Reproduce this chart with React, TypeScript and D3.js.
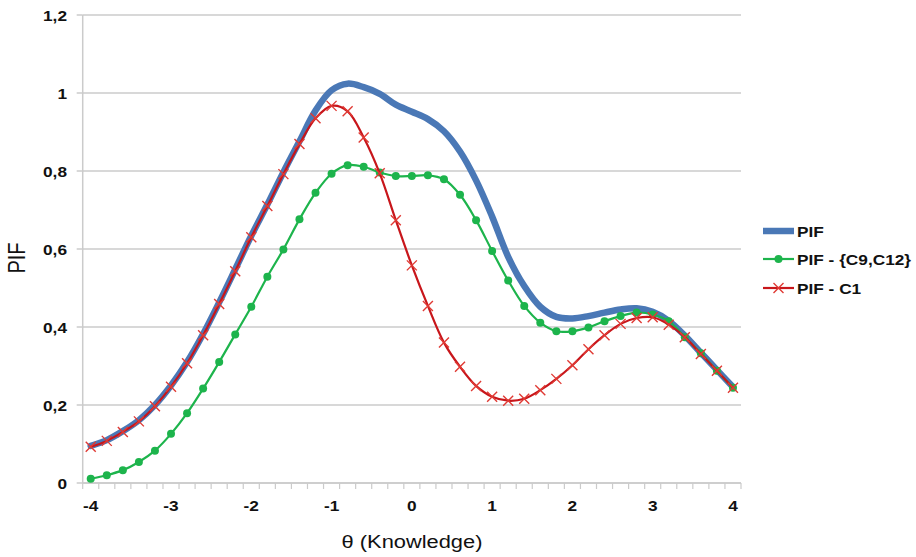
import React from "react";
import * as d3 from "d3";

const categories: number[] = [
  -4, -3.8, -3.6, -3.4, -3.2, -3, -2.8, -2.6, -2.4, -2.2, -2, -1.8, -1.6, -1.4,
  -1.2, -1, -0.8, -0.6, -0.4, -0.2, 0, 0.2, 0.4, 0.6, 0.8, 1, 1.2, 1.4, 1.6, 1.8,
  2, 2.2, 2.4, 2.6, 2.8, 3, 3.2, 3.4, 3.6, 3.8, 4,
];

const pif: number[] = [
  0.095, 0.11, 0.133, 0.161, 0.2, 0.25, 0.31, 0.382, 0.463, 0.548, 0.634, 0.714,
  0.797, 0.876, 0.955, 1.007, 1.024, 1.015, 0.998, 0.97, 0.952, 0.933, 0.902,
  0.85, 0.776, 0.683, 0.58, 0.505, 0.452, 0.426, 0.422, 0.428, 0.437, 0.445,
  0.448, 0.439, 0.416, 0.378, 0.334, 0.29, 0.246,
];

const pifC9C12: number[] = [
  0.011, 0.02, 0.033, 0.054, 0.083, 0.126, 0.179, 0.242, 0.31, 0.381, 0.452,
  0.529, 0.599, 0.676, 0.744, 0.793, 0.815, 0.811, 0.796, 0.787, 0.787, 0.789,
  0.779, 0.739, 0.674, 0.595, 0.519, 0.454, 0.411, 0.389, 0.389, 0.399, 0.415,
  0.428, 0.437, 0.432, 0.415, 0.374, 0.333, 0.288, 0.244,
];

const pifC1: number[] = [
  0.093, 0.108, 0.131, 0.158, 0.197, 0.247, 0.307, 0.379, 0.459, 0.543, 0.63,
  0.71, 0.792, 0.869, 0.935, 0.967, 0.953, 0.886, 0.794, 0.674, 0.558, 0.454,
  0.36, 0.298, 0.249, 0.221, 0.211, 0.216, 0.238, 0.267, 0.302, 0.343, 0.379,
  0.408, 0.423, 0.425, 0.406, 0.374, 0.331, 0.288, 0.244,
];

const yTicks: number[] = [0, 0.2, 0.4, 0.6, 0.8, 1, 1.2];
const xLabelValues: number[] = [-4, -3, -2, -1, 0, 1, 2, 3, 4];
const seriesNames: string[] = ["PIF", "PIF - {C9,C12}", "PIF - C1"];

const W = 916;
const H = 557;
const left = 82.7;
const right = 741;
const top = 15;
const bottom = 483;
const SX = 1.15;
const FONT = "'Liberation Sans', Arial, sans-serif";

const BLUE = "#4a78b6";
const GREEN = "#1db44c";
const RED = "#c8161b";
const RED_MARK = "#e03a34";
const GRID = "#cbcbcb";

function SText(props: {
  x: number;
  y: number;
  anchor?: string;
  size: number;
  weight?: string | number;
  rotate?: number;
  children: React.ReactNode;
}) {
  const { x, y, anchor = "start", size, weight = "normal", rotate = 0 } = props;
  const t = rotate
    ? `translate(${x},${y}) rotate(${rotate}) scale(1,${SX})`
    : `translate(${x},${y}) scale(${SX},1)`;
  return (
    <text
      transform={t}
      textAnchor={anchor}
      dominantBaseline="central"
      fontFamily={FONT}
      fontSize={size}
      fontWeight={weight}
      fill="#111"
    >
      {props.children}
    </text>
  );
}

export default function App() {
  const idx = categories.map((_, i) => String(i));
  const x = d3.scalePoint<string>().domain(idx).range([left, right]).padding(0.5);
  const step = x.step();
  const y = d3.scaleLinear().domain([0, 1.2]).range([bottom, top]);

  const line = (vals: number[]) =>
    d3
      .line<number>()
      .x((_, i) => x(String(i)) as number)
      .y((v) => y(v))
      .curve(d3.curveCatmullRom.alpha(0.5))(vals) as string;

  const boundaries = d3.range(categories.length + 1).map((i) => left + i * step);

  const legendY = [231, 259, 288];
  const lx0 = 763;
  const lx1 = 794;

  const cross = (cx: number, cy: number, s: number, key: string | number) => (
    <path
      key={key}
      d={`M${cx - s},${cy - s}L${cx + s},${cy + s}M${cx - s},${cy + s}L${cx + s},${cy - s}`}
      stroke={RED_MARK}
      strokeWidth={1.4}
      fill="none"
    />
  );

  return (
    <svg
      width={W}
      height={H}
      style={{ position: "absolute", left: 0, top: 0, background: "#fff" }}
    >
      <rect x={0} y={0} width={W} height={H} fill="#fff" />
      {/* gridlines */}
      {yTicks.map((t) => (
        <line key={"g" + t} x1={left} x2={right} y1={y(t)} y2={y(t)} stroke={GRID} strokeWidth={1.5} />
      ))}
      {/* y axis */}
      <line x1={left} x2={left} y1={top} y2={bottom} stroke={GRID} strokeWidth={1.5} />
      {yTicks.map((t) => (
        <line key={"yt" + t} x1={left - 6} x2={left} y1={y(t)} y2={y(t)} stroke={GRID} strokeWidth={1.5} />
      ))}
      {yTicks.map((t) => (
        <SText key={"yl" + t} x={67} y={y(t)} anchor="end" size={15} weight="bold">
          {d3.format(".1~f")(t).replace(".", ",")}
        </SText>
      ))}
      {/* x axis */}
      <line x1={left} x2={right} y1={bottom} y2={bottom} stroke={GRID} strokeWidth={1.5} />
      {boundaries.map((bx, i) => (
        <line key={"xt" + i} x1={bx} x2={bx} y1={bottom} y2={bottom + 6} stroke={GRID} strokeWidth={1.2} />
      ))}
      {categories.map((c, i) =>
        xLabelValues.includes(c) ? (
          <SText key={"xl" + i} x={x(String(i)) as number} y={505} anchor="middle" size={15} weight="bold">
            {String(c)}
          </SText>
        ) : null
      )}
      {/* titles */}
      <SText x={412} y={541} anchor="middle" size={19}>
        θ (Knowledge)
      </SText>
      <SText x={17} y={258} anchor="middle" size={20} rotate={-90}>
        PIF
      </SText>

      {/* series */}
      <path d={line(pif)} fill="none" stroke={BLUE} strokeWidth={6.5} strokeLinejoin="round" strokeLinecap="round" />
      <path d={line(pifC9C12)} fill="none" stroke={GREEN} strokeWidth={2.2} />
      {pifC9C12.map((v, i) => (
        <circle key={"gc" + i} cx={x(String(i)) as number} cy={y(v)} r={4} fill={GREEN} />
      ))}
      <path d={line(pifC1)} fill="none" stroke={RED} strokeWidth={2.2} />
      {pifC1.map((v, i) => cross(x(String(i)) as number, y(v), 5, "rc" + i))}

      {/* legend */}
      <line x1={lx0} x2={lx1} y1={legendY[0]} y2={legendY[0]} stroke={BLUE} strokeWidth={6.5} />
      <line x1={lx0} x2={lx1} y1={legendY[1]} y2={legendY[1]} stroke={GREEN} strokeWidth={2.2} />
      <circle cx={(lx0 + lx1) / 2} cy={legendY[1]} r={4} fill={GREEN} />
      <line x1={lx0} x2={lx1} y1={legendY[2]} y2={legendY[2]} stroke={RED} strokeWidth={2.2} />
      {cross((lx0 + lx1) / 2, legendY[2], 5, "lc")}
      {seriesNames.map((n, i) => (
        <SText key={"ln" + i} x={797} y={legendY[i]} size={15} weight="bold">
          {n}
        </SText>
      ))}
    </svg>
  );
}
